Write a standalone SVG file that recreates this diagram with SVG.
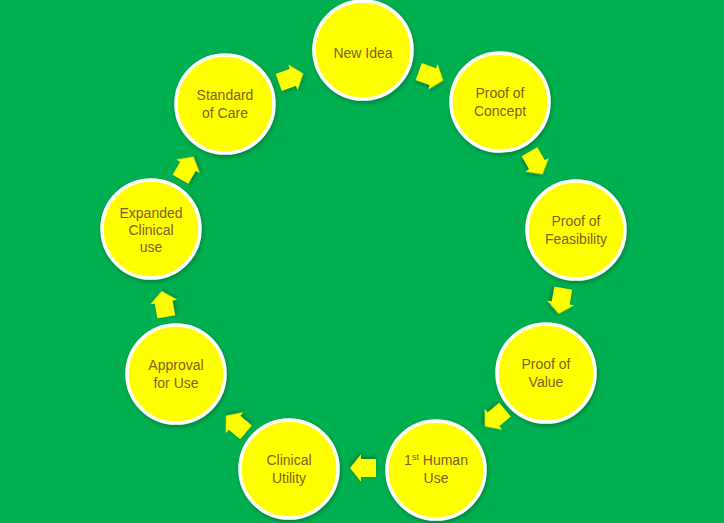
<svg xmlns="http://www.w3.org/2000/svg" width="724" height="523" viewBox="0 0 724 523">
<defs>
<filter id="sh" x="-20%" y="-20%" width="140%" height="140%">
<feDropShadow dx="1" dy="2" stdDeviation="2" flood-color="#004020" flood-opacity="0.45"/>
</filter>
<path id="arr" d="M-13,-9 L2,-9 L2,-13.5 L13,0 L2,13.5 L2,9 L-13,9 Z"/>
</defs>
<style>
.node circle{fill:#FFFF00;stroke:#FFFFFF;stroke-width:3.5;filter:url(#sh)}
.node text{font-family:"Liberation Sans",Arial,sans-serif;font-size:14px;fill:#7F6024;text-anchor:middle}
.arrows use{fill:#FFFF00;filter:url(#sh)}
</style>
<rect width="724" height="523" fill="#00B050"/>
<g class="arrows" id="connectors">
<use href="#arr" transform="translate(291,78) rotate(-20)"/>
<use href="#arr" transform="translate(431,76) rotate(20)"/>
<use href="#arr" transform="translate(536,163) rotate(60)"/>
<use href="#arr" transform="translate(561,301) rotate(100)"/>
<use href="#arr" transform="translate(495,418) rotate(140)"/>
<use href="#arr" transform="translate(363,468) rotate(180)"/>
<use href="#arr" transform="translate(236,424) rotate(220)"/>
<use href="#arr" transform="translate(164,304) rotate(260)"/>
<use href="#arr" transform="translate(187,168) rotate(300)"/>
</g>
<g class="node" id="new-idea"><circle cx="363" cy="50" r="49"/><text x="363" y="58">New Idea</text></g>
<g class="node" id="proof-concept"><circle cx="500" cy="102" r="49"/><text x="500" y="98">Proof of</text><text x="500" y="116">Concept</text></g>
<g class="node" id="proof-feasibility"><circle cx="576" cy="230" r="49"/><text x="576" y="226">Proof of</text><text x="576" y="244">Feasibility</text></g>
<g class="node" id="proof-value"><circle cx="546" cy="373" r="49"/><text x="546" y="369">Proof of</text><text x="546" y="387">Value</text></g>
<g class="node" id="human-use"><circle cx="436" cy="470" r="49"/><text x="436" y="465">1<tspan font-size="9" dy="-5">st</tspan><tspan dy="5"> Human</tspan></text><text x="436" y="483">Use</text></g>
<g class="node" id="clinical-utility"><circle cx="289" cy="469" r="49"/><text x="289" y="465">Clinical</text><text x="289" y="483">Utility</text></g>
<g class="node" id="approval"><circle cx="176" cy="374" r="49"/><text x="176" y="370">Approval</text><text x="176" y="388">for Use</text></g>
<g class="node" id="expanded"><circle cx="151" cy="229" r="49"/><text x="151" y="218">Expanded</text><text x="151" y="235">Clinical</text><text x="151" y="252">use</text></g>
<g class="node" id="standard"><circle cx="225" cy="104" r="49"/><text x="225" y="100">Standard</text><text x="225" y="118">of Care</text></g>
</svg>
